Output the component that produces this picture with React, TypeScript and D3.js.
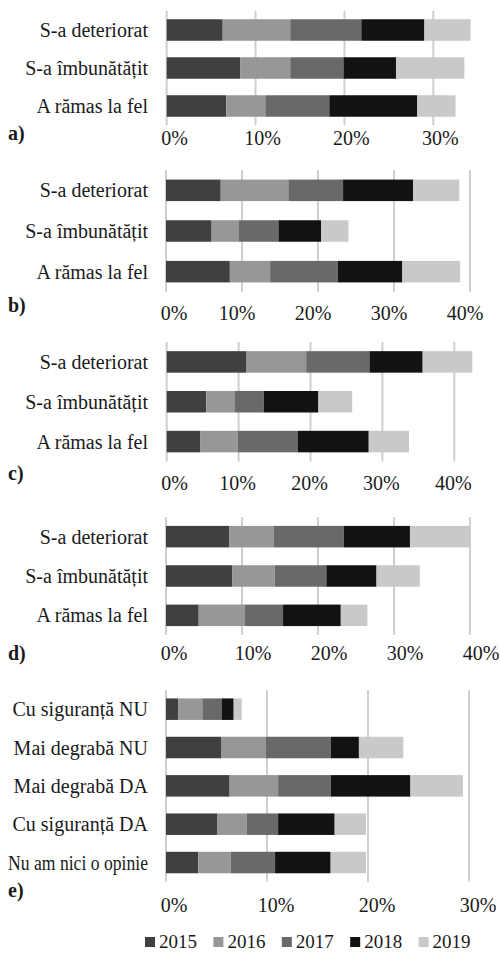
import * as d3 from 'd3';

const years = ['2015', '2016', '2017', '2018', '2019'];
const yearColors = ['#404040', '#979797', '#696969', '#121212', '#c9c9c9'];

const changeCats = ['S-a deteriorat', 'S-a îmbunătățit', 'A rămas la fel'];
const opinionCats = ['Cu siguranță NU', 'Mai degrabă NU', 'Mai degrabă DA', 'Cu siguranță DA', 'Nu am nici o opinie'];

// values in %, one row per category, one column per year
const valuesA = [
  [6.3, 7.6, 8.0, 7.1, 5.2],
  [8.3, 5.6, 6.0, 5.9, 7.7],
  [6.7, 4.4, 7.2, 9.9, 4.3],
];
const valuesB = [
  [7.2, 8.9, 7.2, 9.2, 6.1],
  [6.0, 3.6, 5.2, 5.6, 3.6],
  [8.4, 5.3, 8.9, 8.5, 7.6],
];
const valuesC = [
  [11.1, 8.3, 8.8, 7.4, 6.9],
  [5.5, 4.0, 4.0, 7.6, 4.7],
  [4.7, 5.2, 8.3, 9.9, 5.6],
];
const valuesD = [
  [8.3, 5.9, 9.2, 8.7, 7.9],
  [8.7, 5.6, 6.8, 6.6, 5.7],
  [4.3, 6.1, 5.0, 7.6, 3.5],
];
const valuesE = [
  [1.2, 2.4, 1.9, 1.2, 0.8],
  [5.5, 4.4, 6.4, 2.8, 4.4],
  [6.3, 4.8, 5.2, 7.9, 5.2],
  [5.1, 2.9, 3.1, 5.6, 3.1],
  [3.2, 3.2, 4.4, 5.5, 3.5],
];

const ticks30 = [0, 10, 20, 30];
const ticks40 = [0, 10, 20, 30, 40];

const FONT = '"Liberation Serif", "Times New Roman", "DejaVu Serif", serif';
const W = 500;
const H = 953;
const txt = { fontFamily: FONT };

interface PanelProps {
  tag: string;
  cats: string[];
  values: number[][];
  ticks: number[];
  x0: number;
  x1: number;
  yTop: number;
  yBottom: number;
  tickY: number;
  tagY: number;
  tickDx: number;
}

function Panel({ tag, cats, values, ticks, x0, x1, yTop, yBottom, tickY, tagY, tickDx }: PanelProps) {
  const maxTick = ticks[ticks.length - 1];
  const x = d3.scaleLinear().domain([0, maxTick]).range([x0, x1]);
  const y = d3.scaleBand<string>().domain(cats).range([yTop, yBottom]).padding(0);
  const barH = 21.5;

  const rows = cats.map((c, i) => {
    const r: Record<string, any> = { cat: c };
    years.forEach((yr, j) => { r[yr] = values[i][j]; });
    return r;
  });
  const series = d3.stack<Record<string, any>>().keys(years)(rows);

  return (
    <g>
      {ticks.map(t => (
        <line key={'g' + t} x1={x(t)} x2={x(t)} y1={yTop} y2={yBottom}
          stroke="#cfcfcf" strokeWidth={2} />
      ))}
      {series.map((s, si) => (
        <g key={s.key} fill={yearColors[si]}>
          {s.map(d => {
            const cy = (y(d.data.cat) ?? 0) + y.bandwidth() / 2;
            return (
              <rect key={d.data.cat} x={x(d[0])} width={x(d[1]) - x(d[0])}
                y={cy - barH / 2} height={barH} />
            );
          })}
        </g>
      ))}
      {cats.map(c => (
        <text key={c} x={148} y={(y(c) ?? 0) + y.bandwidth() / 2} dy="0.35em"
          textAnchor="end" fontSize={20} fill="#1a1a1a" style={txt}
          {...(c === 'Nu am nici o opinie' ? { textLength: 140, lengthAdjust: 'spacingAndGlyphs' } : {})}>
          {c}
        </text>
      ))}
      {ticks.map(t => (
        <text key={'t' + t} x={x(t) + (t === 0 ? 8 : tickDx)} y={tickY}
          textAnchor="middle" fontSize={20} fill="#1a1a1a" style={txt}>
          {t + '%'}
        </text>
      ))}
      <text x={8} y={tagY} fontSize={20} fontWeight="bold" fill="#1a1a1a" style={txt}>{tag}</text>
    </g>
  );
}

export default function App() {
  const legendX = d3.scaleBand<string>().domain(years).range([145, 487]);
  return (
    <svg width={W} height={H} style={{ position: 'absolute', left: 0, top: 0, display: 'block', background: '#fff' }}>
      <rect width={W} height={H} fill="#fff" />
      <Panel tag="a)" cats={changeCats} values={valuesA} ticks={ticks30}
        x0={166.7} x1={433.3} yTop={11} yBottom={125} tickY={145} tagY={140} tickDx={7} />
      <Panel tag="b)" cats={changeCats} values={valuesB} ticks={ticks40}
        x0={166} x1={470} yTop={170} yBottom={292} tickY={320} tagY={312} tickDx={-5} />
      <Panel tag="c)" cats={changeCats} values={valuesC} ticks={ticks40}
        x0={166.7} x1={454.3} yTop={342} yBottom={461.5} tickY={490} tagY={480} tickDx={-1} />
      <Panel tag="d)" cats={changeCats} values={valuesD} ticks={ticks40}
        x0={166} x1={470} yTop={517} yBottom={635} tickY={660} tagY={660} tickDx={11} />
      <Panel tag="e)" cats={opinionCats} values={valuesE} ticks={ticks30}
        x0={166} x1={469} yTop={690} yBottom={881.7} tickY={912} tagY={897} tickDx={9} />
      <g>
        {years.map((yr, i) => (
          <g key={yr} transform={`translate(${legendX(yr)},0)`}>
            <rect x={0} y={937} width={10} height={10} fill={yearColors[i]} />
            <text x={14} y={948} fontSize={19} fill="#1a1a1a" style={txt}>{yr}</text>
          </g>
        ))}
      </g>
    </svg>
  );
}
